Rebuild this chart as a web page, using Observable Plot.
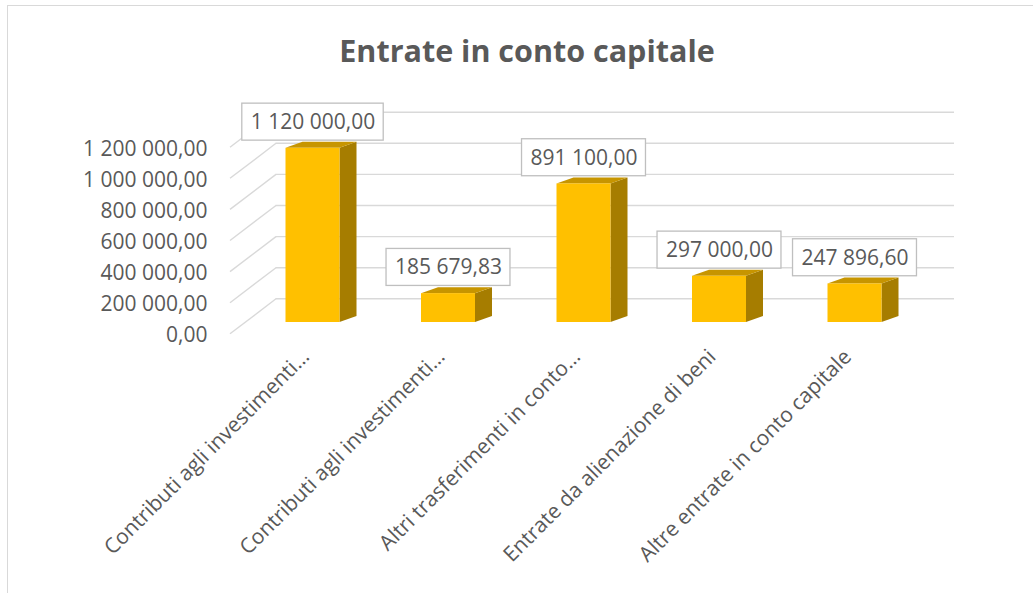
<!DOCTYPE html>
<html><head><meta charset="utf-8">
<script src="https://cdn.jsdelivr.net/npm/d3@7"></script>
<script src="https://cdn.jsdelivr.net/npm/@observablehq/plot@0.6"></script>
<style>
body{margin:0;background:#fff;}
#wrap{position:relative;width:1033px;height:593px;overflow:hidden;background:#fff;}
#border{position:absolute;left:7px;top:5px;width:1100px;height:700px;border:1.5px solid #d9d9d9;box-sizing:border-box}
#title{position:absolute;left:7px;width:1040px;top:27px;text-align:center;font-family:"Open Sans",sans-serif;font-weight:bold;font-size:30.5px;color:#595959;line-height:46px;margin:0}
#chart{position:absolute;left:0;top:95px}
</style></head><body>
<div id="wrap"><div id="border"></div><h1 id="title">Entrate in conto capitale</h1><div id="chart"></div></div>
<script>
// ---- data ----
const categories = [
  "Contributi agli investimenti…",
  "Contributi agli investimenti…",
  "Altri trasferimenti in conto…",
  "Entrate da alienazione di beni",
  "Altre entrate in conto capitale"
];
const values = [1120000, 185679.83, 891100, 297000, 247896.6];
const yTicks = [0, 200000, 400000, 600000, 800000, 1000000, 1200000];

// ---- styling / geometry (pixels) ----
const X_RANGE = [312.5, 854.5];
const Y_RANGE = [227, 227 - 1200000 * 155.5e-6];
const HALF_W = 27, DEPTH_X = 17, DEPTH_Y = 6;
const WALL_FRONT_X = -83, WALL_BACK_X = -37, WALL_RIGHT_X = 641.5;
const WALL_FRONT_DY = 11.3, WALL_BACK_DY = 23.7;
const FRONT = "#FFC000", SIDE = "#A67D00", TOP = "#C79500", GRID = "#d9d9d9", TEXT = "#595959";

const xU = px => px * 4 / (X_RANGE[1] - X_RANGE[0]);
const yU = px => px * 1200000 / (Y_RANGE[0] - Y_RANGE[1]);

const fmt = d3.formatLocale({decimal: ",", thousands: " ", grouping: [3], currency: ["", ""]}).format(",.2f");

const ctx = document.createElement("canvas").getContext("2d");
ctx.font = "21px 'Open Sans'";
const bars = values.map((v, i) => ({i, v, cat: categories[i], label: fmt(v), w: ctx.measureText(fmt(v)).width + 17}));

const sideFaces = bars.flatMap(b => [
  {z: b.i, x: b.i + xU(HALF_W), y1: 0, y2: b.v},
  {z: b.i, x: b.i + xU(HALF_W + DEPTH_X), y1: yU(DEPTH_Y), y2: b.v + yU(DEPTH_Y)}
]);
const topFaces = bars.flatMap(b => [
  {z: b.i, y: b.v, x1: b.i - xU(HALF_W), x2: b.i + xU(HALF_W)},
  {z: b.i, y: b.v + yU(DEPTH_Y), x1: b.i + xU(DEPTH_X - HALF_W), x2: b.i + xU(HALF_W + DEPTH_X)}
]);

const chart = Plot.plot({
  width: 1033,
  height: 498,
  marginLeft: 212,
  style: {fontFamily: "'Open Sans', sans-serif", fontSize: "21px", color: TEXT, background: "transparent"},
  x: {type: "linear", domain: [0, 4], range: X_RANGE, axis: null},
  y: {type: "linear", domain: [0, 1200000], range: Y_RANGE, axis: null},
  marks: [
    Plot.link(yTicks, {x1: xU(WALL_FRONT_X), x2: xU(WALL_BACK_X), y1: d => d - yU(WALL_FRONT_DY), y2: d => d + yU(WALL_BACK_DY), stroke: GRID, strokeWidth: 1.4}),
    Plot.ruleY(yTicks, {y: d => d + yU(WALL_BACK_DY), x1: xU(WALL_BACK_X), x2: xU(WALL_RIGHT_X), stroke: GRID, strokeWidth: 1.4}),
    Plot.areaY(sideFaces, {x: "x", y1: "y1", y2: "y2", z: "z", fill: SIDE}),
    Plot.areaX(topFaces, {y: "y", x1: "x1", x2: "x2", z: "z", fill: TOP}),
    Plot.rect(bars, {x1: d => d.i - xU(HALF_W), x2: d => d.i + xU(HALF_W), y1: 0, y2: "v", fill: FRONT}),
    Plot.rect(bars, {x1: d => d.i - xU(d.w / 2), x2: d => d.i + xU(d.w / 2), y1: d => d.v + yU(7.7), y2: d => d.v + yU(44.7), fill: "white", stroke: "#bfbfbf", strokeWidth: 1.3}),
    Plot.text(bars, {x: "i", y: "v", dy: -26, text: "label", fill: TEXT}),
    Plot.text(yTicks, {y: d => d, frameAnchor: "left", textAnchor: "end", dx: -5, dy: 13, text: d => fmt(d), fill: TEXT}),
    Plot.text(bars, {x: "i", y: 0, text: "cat", rotate: -45, textAnchor: "end", lineAnchor: "top", dx: -13, dy: 25, fill: TEXT})
  ]
});
document.getElementById("chart").appendChild(chart);
</script>
</body></html>
